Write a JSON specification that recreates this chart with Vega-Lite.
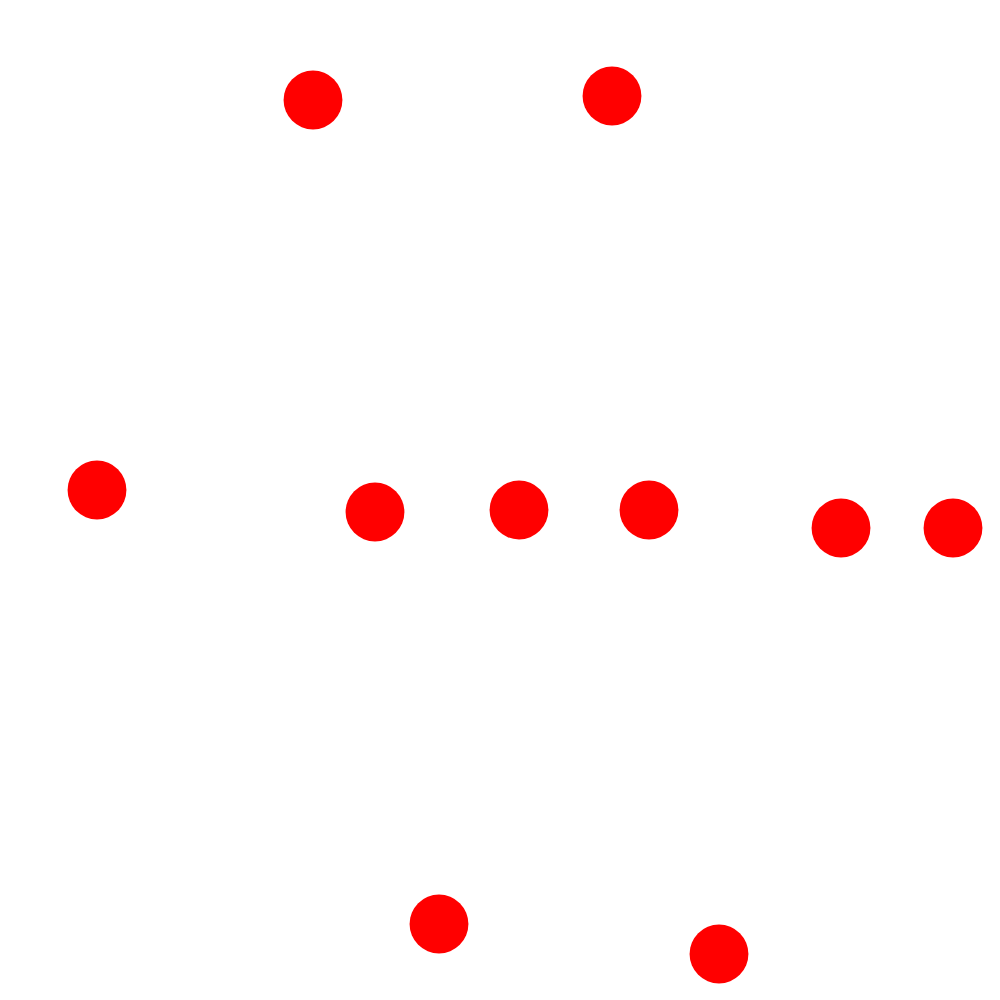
{
  "$schema": "https://vega.github.io/schema/vega-lite/v6.json",
  "width": 1000,
  "height": 1000,
  "autosize": {"type": "fit", "contains": "padding"},
  "padding": 0,
  "background": "white",
  "config": {"view": {"stroke": null}},
  "data": {
    "values": [
      {"x": 313, "y": 100},
      {"x": 612, "y": 96},
      {"x": 97, "y": 490},
      {"x": 375, "y": 512},
      {"x": 519, "y": 510},
      {"x": 649, "y": 510},
      {"x": 841, "y": 528},
      {"x": 953, "y": 528},
      {"x": 439, "y": 924},
      {"x": 719, "y": 954}
    ]
  },
  "mark": {"type": "circle", "color": "#ff0000", "opacity": 1, "size": 3460},
  "encoding": {
    "x": {"field": "x", "type": "quantitative", "scale": {"domain": [0, 1000], "nice": false, "zero": false}, "axis": null},
    "y": {"field": "y", "type": "quantitative", "scale": {"domain": [0, 1000], "nice": false, "zero": false, "reverse": true}, "axis": null}
  }
}
